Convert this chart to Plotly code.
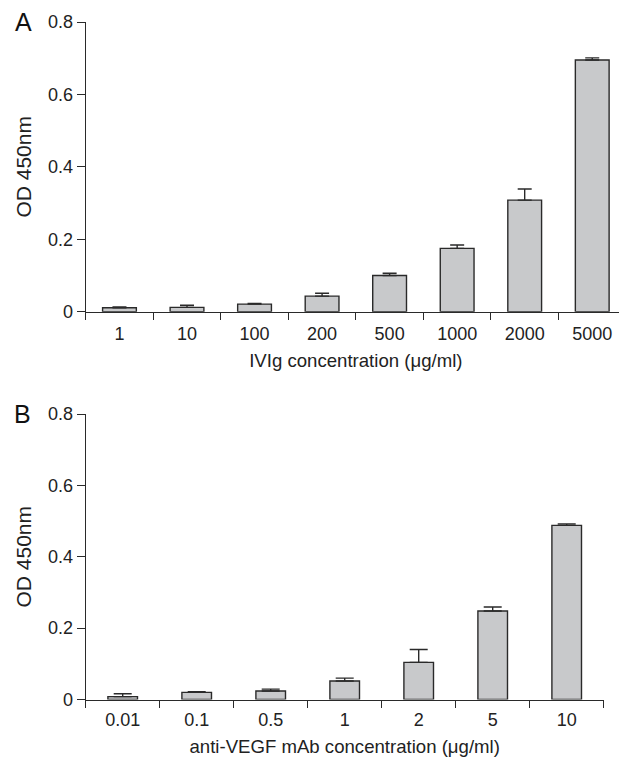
import plotly.graph_objects as go

# Panel A data
cats_a = ["1", "10", "100", "200", "500", "1000", "2000", "5000"]
od_a = [0.011, 0.012, 0.021, 0.043, 0.100, 0.175, 0.308, 0.695]
err_a = [0.002, 0.006, 0.002, 0.008, 0.006, 0.009, 0.031, 0.006]

# Panel B data
cats_b = ["0.01", "0.1", "0.5", "1", "2", "5", "10"]
od_b = [0.008, 0.020, 0.024, 0.052, 0.104, 0.248, 0.488]
err_b = [0.008, 0.002, 0.005, 0.008, 0.036, 0.011, 0.004]

y_ticks = [0, 0.2, 0.4, 0.6, 0.8]
y_ticktext = ["0", "0.2", "0.4", "0.6", "0.8"]

FONT = "Liberation Sans, Arial, sans-serif"
BAR_FILL = "#c8c9cb"
LINE = "#2a2a2a"
OFF = 8          # page body margin
W, H = 627 - OFF, 763 - OFF


def px(xp):
    return (xp - OFF) / W


def py(yp):
    return (H - (yp - OFF)) / H


fig = go.Figure()
fig.add_trace(go.Bar(
    x=cats_a, y=od_a, xaxis="x", yaxis="y", width=0.5,
    marker=dict(color=BAR_FILL, line=dict(color=LINE, width=1.4)),
    error_y=dict(type="data", array=err_a, arrayminus=[0] * len(err_a), symmetric=False,
                 color=LINE, thickness=1.4, width=7),
    showlegend=False,
))
fig.add_trace(go.Bar(
    x=cats_b, y=od_b, xaxis="x2", yaxis="y2", width=0.4,
    marker=dict(color=BAR_FILL, line=dict(color=LINE, width=1.4)),
    error_y=dict(type="data", array=err_b, arrayminus=[0] * len(err_b), symmetric=False,
                 color=LINE, thickness=1.4, width=9),
    showlegend=False,
))

ax_common = dict(showline=True, linecolor=LINE, linewidth=1.3, ticks="outside",
                 tickcolor=LINE, tickwidth=1.3, showgrid=False, zeroline=False,
                 automargin=False,
                 tickfont=dict(family=FONT, size=18, color="#222"))

xa_dom = [px(85.7), px(626)]
xb_dom = [px(85.7), px(603.7)]
ya_dom = [py(311.7), py(22)]
yb_dom = [py(699.5), py(414)]

fig.update_layout(
    template="none",
    width=W, height=H,
    margin=dict(l=0, r=0, t=0, b=0, pad=0),
    paper_bgcolor="white", plot_bgcolor="white",
    showlegend=False,
    font=dict(family=FONT, color="#222"),
    xaxis=dict(domain=xa_dom, anchor="y", type="category", range=[-0.5, 7.5],
               tickson="boundaries", ticklen=7, ticklabelstandoff=6,
               title=dict(text="IVIg concentration (μg/ml)", font=dict(size=18.6), standoff=10),
               **ax_common),
    yaxis=dict(domain=ya_dom, anchor="x", range=[0, 0.8], tickvals=y_ticks, ticktext=y_ticktext,
               ticklen=8, title=dict(text="OD 450nm", font=dict(size=21), standoff=10),
               **ax_common),
    xaxis2=dict(domain=xb_dom, anchor="y2", type="category", range=[-0.5, 6.5],
                tickson="boundaries", ticklen=7, ticklabelstandoff=4,
                title=dict(text="anti-VEGF mAb concentration (μg/ml)", font=dict(size=18.6), standoff=10),
                **ax_common),
    yaxis2=dict(domain=yb_dom, anchor="x2", range=[0, 0.8], tickvals=y_ticks, ticktext=y_ticktext,
                ticklen=8, title=dict(text="OD 450nm", font=dict(size=21), standoff=10),
                **ax_common),
    annotations=[
        dict(text="A", x=px(23.5), y=py(22.5), xref="paper", yref="paper", showarrow=False,
             font=dict(family=FONT, size=25, color="#111"), xanchor="center", yanchor="middle"),
        dict(text="B", x=px(22.5), y=py(414), xref="paper", yref="paper", showarrow=False,
             font=dict(family=FONT, size=25, color="#111"), xanchor="center", yanchor="middle"),
    ],
)

fig.write_html("out.html")
